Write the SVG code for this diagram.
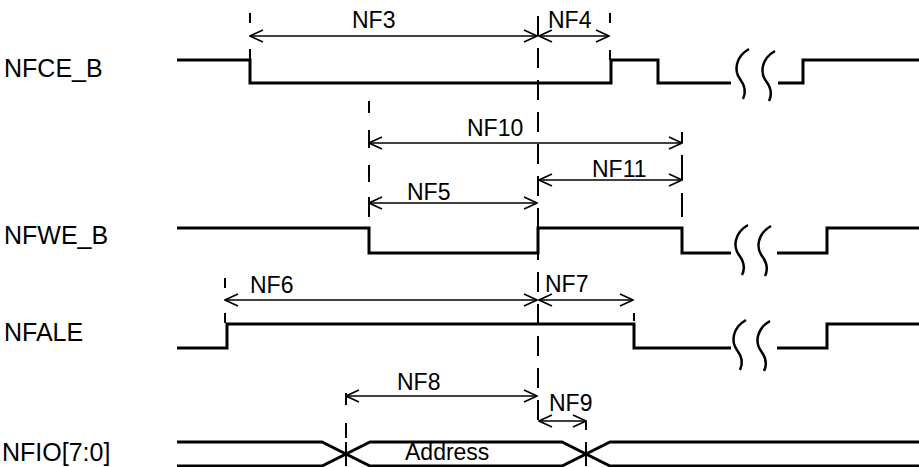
<svg xmlns="http://www.w3.org/2000/svg" width="919" height="467" viewBox="0 0 919 467">
<style>
.sig{fill:none;stroke:#000;stroke-width:3}
.sq{fill:none;stroke:#000;stroke-width:2.5}
.dash{fill:none;stroke:#000;stroke-width:2}
.arr{fill:none;stroke:#000;stroke-width:1.6;marker-start:url(#ah);marker-end:url(#ah)}
.lbl{font-family:"Liberation Sans",Arial,sans-serif;font-size:25px;fill:#000}
.t{font-family:"Liberation Sans",Arial,sans-serif;font-size:23px;fill:#000}
</style>
<defs>
<marker id="ah" viewBox="-15 -8 16 16" refX="0" refY="0" markerWidth="16" markerHeight="16" orient="auto-start-reverse" markerUnits="userSpaceOnUse">
<path d="M-13,-6 L0,0 L-13,6" fill="none" stroke="#000" stroke-width="1.6"/>
</marker>
<path id="sq" class="sq" d="M7,0 C-7,8 -8,22 -2,30 S4,44 1,50"/>
</defs>
<rect width="919" height="467" fill="#fff"/>
<g id="NFCE_B">
<text class="lbl" x="4" y="77">NFCE_B</text>
<polyline class="sig" points="177,60 250,60 250,83 611,83 611,60 658,60 658,83 731,83"/>
<polyline class="sig" points="778,83 803,83 803,60 919,60"/>
<use href="#sq" x="742" y="49"/>
<use href="#sq" x="768" y="51"/>
</g>
<g id="NFWE_B">
<text class="lbl" x="4" y="244">NFWE_B</text>
<polyline class="sig" points="177,228 369,228 369,253 538,253 538,228 682,228 682,253 731,253"/>
<polyline class="sig" points="777,253 827,253 827,228 919,228"/>
<use href="#sq" x="741" y="225"/>
<use href="#sq" x="764" y="226"/>
</g>
<g id="NFALE">
<text class="lbl" x="4" y="341">NFALE</text>
<polyline class="sig" points="177,348 227,348 227,324 634,324 634,348 731,348"/>
<polyline class="sig" points="777,348 827,348 827,324 919,324"/>
<use href="#sq" x="739" y="320"/>
<use href="#sq" x="763" y="321"/>
</g>
<g id="NFIO">
<text class="lbl" x="2" y="461">NFIO[7:0]</text>
<path class="sig" d="M177,442 H322 L370,466 H562 L610,442 H919 M177,466 H322 L370,442 H562 L610,466 H919"/>
<text class="t" x="405" y="460">Address</text>
</g>
<g id="connectors">
<path class="dash" d="M250,13 V23 M250,49 V60 M610,13 V23 M610,50 V60"/>
<path class="dash" stroke-dasharray="20 12" d="M538,16 V421"/>
<path class="dash" d="M369,101 V113 M369,130 V148 M369,165 V182 M369,197 V217"/>
<path class="dash" d="M682,132 V143 M682,155 V180 M682,193 V217"/>
<path class="dash" d="M225,278 V288 M225,313 V323 M634,313 V321"/>
<path class="dash" d="M346,393 V405 M346,423 V438 M346,442 V466 M586,421 V430 M586,442 V466"/>
<line class="arr" x1="250" y1="36" x2="537" y2="36"/>
<line class="arr" x1="539" y1="36" x2="609" y2="36"/>
<line class="arr" x1="369" y1="143" x2="682" y2="143"/>
<line class="arr" x1="539" y1="180" x2="682" y2="180"/>
<line class="arr" x1="369" y1="203" x2="537" y2="203"/>
<line class="arr" x1="225" y1="300" x2="537" y2="300"/>
<line class="arr" x1="539" y1="300" x2="633" y2="300"/>
<line class="arr" x1="346" y1="396" x2="537" y2="396"/>
<line class="arr" x1="539" y1="421" x2="586" y2="421"/>
</g>
<g id="labels">
<text class="t" x="352" y="28">NF3</text>
<text class="t" x="548" y="28">NF4</text>
<text class="t" x="467" y="136">NF10</text>
<text class="t" x="592" y="177">NF11</text>
<text class="t" x="407" y="200">NF5</text>
<text class="t" x="250" y="293">NF6</text>
<text class="t" x="545" y="292">NF7</text>
<text class="t" x="397" y="390">NF8</text>
<text class="t" x="549" y="411">NF9</text>
</g>
</svg>
